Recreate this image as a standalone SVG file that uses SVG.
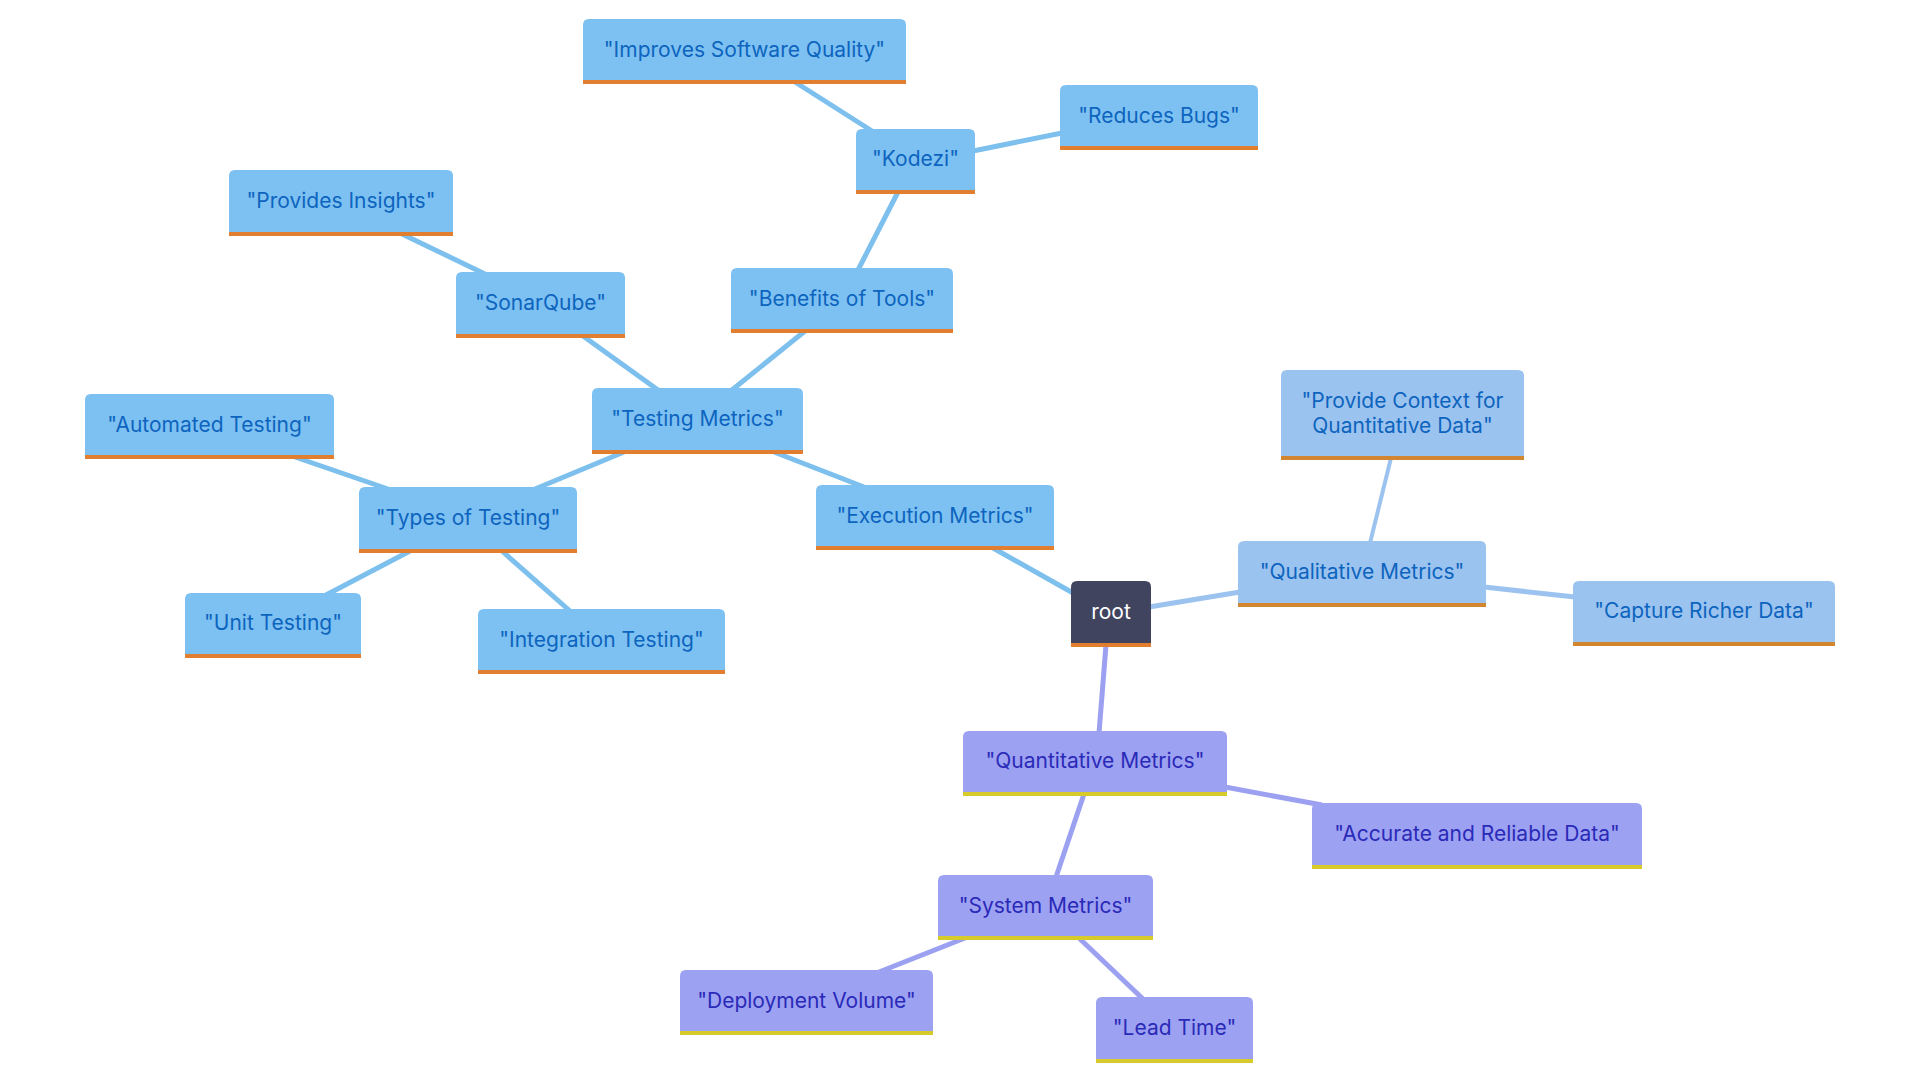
<svg xmlns="http://www.w3.org/2000/svg" width="1920" height="1080" viewBox="0 0 1920 1080">
<style>
.bg{fill:#ffffff}
.e{stroke-width:5;stroke-linecap:butt;fill:none}
.eb{stroke:#7DC0EE}
.eq{stroke:#9CC3EF}
.ep{stroke:#9CA0F0}
.fb{fill:#7DC1F2}
.fq{fill:#9BC3EF}
.fp{fill:#9DA1F2}
.fr{fill:#40445E}
.bo{fill:#E27E2F}
.bq{fill:#D3862F}
.by{fill:#D6CB2A}
text{font-family:Inter,"Open Sans","Liberation Sans",sans-serif;font-size:21px;text-anchor:middle;dominant-baseline:central}
.tb{fill:#0D64BE}
.tp{fill:#2A2AB8}
.tr{fill:#ffffff}
</style>
<rect class="bg" x="0" y="0" width="1920" height="1080"/>
<g id="connectors">
<line class="e eb" x1="795" y1="82" x2="872" y2="131"/>
<line class="e eb" x1="973" y1="151" x2="1062" y2="133"/>
<line class="e eb" x1="898" y1="192" x2="858" y2="270"/>
<line class="e eb" x1="805" y1="331" x2="732" y2="390"/>
<line class="e eb" x1="402" y1="234" x2="485" y2="274"/>
<line class="e eb" x1="583" y1="336" x2="658" y2="390"/>
<line class="e eb" x1="624" y1="452" x2="535" y2="489"/>
<line class="e eb" x1="295" y1="457" x2="388" y2="489"/>
<line class="e eb" x1="410" y1="551" x2="326" y2="595"/>
<line class="e eb" x1="502" y1="551" x2="570" y2="611"/>
<line class="e eb" x1="774" y1="452" x2="864" y2="487"/>
<line class="e eb" x1="993" y1="548" x2="1073" y2="593"/>
<line class="e eq" x1="1149" y1="607" x2="1240" y2="592"/>
<line class="e eq" style="stroke-width:4" x1="1370" y1="543" x2="1391" y2="458"/>
<line class="e eq" x1="1484" y1="587" x2="1575" y2="597"/>
<line class="e ep" x1="1106" y1="645" x2="1099" y2="733"/>
<line class="e ep" x1="1225" y1="787" x2="1322" y2="805"/>
<line class="e ep" x1="1084" y1="794" x2="1056" y2="877"/>
<line class="e ep" x1="965" y1="938" x2="879" y2="972"/>
<line class="e ep" x1="1079" y1="938" x2="1143" y2="999"/>
</g>
<g id="n-isq"><path class="fb" d="M583,84 V25 Q583,19 589,19 H900 Q906,19 906,25 V84 Z"/><rect class="bo" x="583" y="80" width="323" height="4"/><text class="tb" x="744.5" y="49">"Improves Software Quality"</text></g>
<g id="n-rb"><path class="fb" d="M1060,150 V91 Q1060,85 1066,85 H1252 Q1258,85 1258,91 V150 Z"/><rect class="bo" x="1060" y="146" width="198" height="4"/><text class="tb" x="1159" y="115">"Reduces Bugs"</text></g>
<g id="n-kodezi"><path class="fb" d="M856,194 V135 Q856,129 862,129 H969 Q975,129 975,135 V194 Z"/><rect class="bo" x="856" y="190" width="119" height="4"/><text class="tb" x="915.5" y="158">"Kodezi"</text></g>
<g id="n-benefits"><path class="fb" d="M731,333 V274 Q731,268 737,268 H947 Q953,268 953,274 V333 Z"/><rect class="bo" x="731" y="329" width="222" height="4"/><text class="tb" x="842" y="298">"Benefits of Tools"</text></g>
<g id="n-pi"><path class="fb" d="M229,236 V176 Q229,170 235,170 H447 Q453,170 453,176 V236 Z"/><rect class="bo" x="229" y="232" width="224" height="4"/><text class="tb" x="341" y="200">"Provides Insights"</text></g>
<g id="n-sonar"><path class="fb" d="M456,338 V278 Q456,272 462,272 H619 Q625,272 625,278 V338 Z"/><rect class="bo" x="456" y="334" width="169" height="4"/><text class="tb" x="540.5" y="302">"SonarQube"</text></g>
<g id="n-tm"><path class="fb" d="M592,454 V394 Q592,388 598,388 H797 Q803,388 803,394 V454 Z"/><rect class="bo" x="592" y="450" width="211" height="4"/><text class="tb" x="697.5" y="418">"Testing Metrics"</text></g>
<g id="n-auto"><path class="fb" d="M85,459 V400 Q85,394 91,394 H328 Q334,394 334,400 V459 Z"/><rect class="bo" x="85" y="455" width="249" height="4"/><text class="tb" x="209.5" y="424">"Automated Testing"</text></g>
<g id="n-types"><path class="fb" d="M359,553 V493 Q359,487 365,487 H571 Q577,487 577,493 V553 Z"/><rect class="bo" x="359" y="549" width="218" height="4"/><text class="tb" x="468" y="517">"Types of Testing"</text></g>
<g id="n-unit"><path class="fb" d="M185,658 V599 Q185,593 191,593 H355 Q361,593 361,599 V658 Z"/><rect class="bo" x="185" y="654" width="176" height="4"/><text class="tb" x="273" y="622">"Unit Testing"</text></g>
<g id="n-integ"><path class="fb" d="M478,674 V615 Q478,609 484,609 H719 Q725,609 725,615 V674 Z"/><rect class="bo" x="478" y="670" width="247" height="4"/><text class="tb" x="601.5" y="639">"Integration Testing"</text></g>
<g id="n-exec"><path class="fb" d="M816,550 V491 Q816,485 822,485 H1048 Q1054,485 1054,491 V550 Z"/><rect class="bo" x="816" y="546" width="238" height="4"/><text class="tb" x="935" y="515">"Execution Metrics"</text></g>
<g id="n-root"><path class="fr" d="M1071,647 V587 Q1071,581 1077,581 H1145 Q1151,581 1151,587 V647 Z"/><rect class="bo" x="1071" y="643" width="80" height="4"/><text class="tr" x="1111" y="611">root</text></g>
<g id="n-qual"><path class="fq" d="M1238,607 V547 Q1238,541 1244,541 H1480 Q1486,541 1486,547 V607 Z"/><rect class="bq" x="1238" y="603" width="248" height="4"/><text class="tb" x="1362" y="571">"Qualitative Metrics"</text></g>
<g id="n-pc"><path class="fq" d="M1281,460 V376 Q1281,370 1287,370 H1518 Q1524,370 1524,376 V460 Z"/><rect class="bq" x="1281" y="456" width="243" height="4"/><text class="tb" x="1402.5" y="400">"Provide Context for</text><text class="tb" x="1402.5" y="425">Quantitative Data"</text></g>
<g id="n-capture"><path class="fq" d="M1573,646 V587 Q1573,581 1579,581 H1829 Q1835,581 1835,587 V646 Z"/><rect class="bq" x="1573" y="642" width="262" height="4"/><text class="tb" x="1704" y="610">"Capture Richer Data"</text></g>
<g id="n-quant"><path class="fp" d="M963,796 V737 Q963,731 969,731 H1221 Q1227,731 1227,737 V796 Z"/><rect class="by" x="963" y="792" width="264" height="4"/><text class="tp" x="1095" y="760">"Quantitative Metrics"</text></g>
<g id="n-acc"><path class="fp" d="M1312,869 V809 Q1312,803 1318,803 H1636 Q1642,803 1642,809 V869 Z"/><rect class="by" x="1312" y="865" width="330" height="4"/><text class="tp" x="1477" y="833">"Accurate and Reliable Data"</text></g>
<g id="n-sys"><path class="fp" d="M938,940 V881 Q938,875 944,875 H1147 Q1153,875 1153,881 V940 Z"/><rect class="by" x="938" y="936" width="215" height="4"/><text class="tp" x="1045.5" y="905">"System Metrics"</text></g>
<g id="n-dep"><path class="fp" d="M680,1035 V976 Q680,970 686,970 H927 Q933,970 933,976 V1035 Z"/><rect class="by" x="680" y="1031" width="253" height="4"/><text class="tp" x="806.5" y="1000">"Deployment Volume"</text></g>
<g id="n-lead"><path class="fp" d="M1096,1063 V1003 Q1096,997 1102,997 H1247 Q1253,997 1253,1003 V1063 Z"/><rect class="by" x="1096" y="1059" width="157" height="4"/><text class="tp" x="1174.5" y="1027">"Lead Time"</text></g>
</svg>
